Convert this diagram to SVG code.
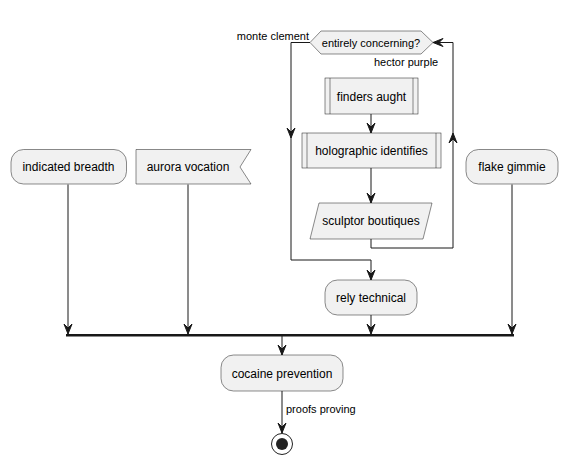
<svg xmlns="http://www.w3.org/2000/svg" width="567" height="465" viewBox="0 0 567 465">
<style>
.n{fill:#F1F1F1;stroke:#181818;stroke-width:0.5}
.t{font-family:"Liberation Sans",Arial,sans-serif;font-size:12px;fill:#000;text-anchor:middle}
.l{font-family:"Liberation Sans",Arial,sans-serif;font-size:11px;fill:#000}
.e{fill:none;stroke:#181818;stroke-width:1}
.a{fill:#181818;stroke:#181818;stroke-width:1}
</style>
<rect width="567" height="465" fill="#FFFFFF"/>
<g id="connectors">
<path class="e" d="M68,184.5 V334"/>
<polygon class="a" points="64,324 68,334 72,324 68,328"/>
<path class="e" d="M188,184.5 V334"/>
<polygon class="a" points="184,324 188,334 192,324 188,328"/>
<path class="e" d="M512,184.5 V334"/>
<polygon class="a" points="508,324 512,334 516,324 512,328"/>
<path class="e" d="M371,315 V334"/>
<polygon class="a" points="367,324 371,334 375,324 371,328"/>
<rect x="66" y="334" width="448" height="2.5" fill="#181818"/>
<path class="e" d="M282,336 V355"/>
<polygon class="a" points="278,345 282,355 286,345 282,349"/>
<path class="e" d="M282,391 V433"/>
<polygon class="a" points="278,423 282,433 286,423 282,427"/>
<text class="l" x="286" y="413">proofs proving</text>
<path class="e" d="M371,114 V133"/>
<polygon class="a" points="367,123 371,133 375,123 371,127"/>
<path class="e" d="M371,168 V203"/>
<polygon class="a" points="367,193 371,203 375,193 371,197"/>
<path class="e" d="M310,42.5 H291 V260 H371 V280"/>
<polygon class="a" points="287,128 291,138 295,128 291,132"/>
<polygon class="a" points="367,270 371,280 375,270 371,274"/>
<path class="e" d="M371,239 V248 H453 V42.5 H433"/>
<polygon class="a" points="449,143 453,133 457,143 453,139"/>
<polygon class="a" points="443,38.5 433,42.5 443,46.5 439,42.5"/>
<text class="l" x="309" y="40" text-anchor="end">monte clement</text>
<text class="l" x="374" y="66">hector purple</text>
</g>
<g id="indicated-breadth">
<rect class="n" x="11" y="149.5" width="115.5" height="34.5" rx="12.5"/>
<text class="t" x="68.5" y="171">indicated breadth</text>
</g>
<g id="aurora-vocation">
<polygon class="n" points="136,149.5 251,149.5 240,167 251,184 136,184"/>
<text class="t" x="188" y="171">aurora vocation</text>
</g>
<g id="flake-gimmie">
<rect class="n" x="466" y="149.5" width="92" height="34.5" rx="12.5"/>
<text class="t" x="512" y="171">flake gimmie</text>
</g>
<g id="entirely-concerning">
<polygon class="n" points="310,42.5 321,31 421,31 433,42.5 421,54 321,54"/>
<text class="l" x="371" y="47" text-anchor="middle">entirely concerning?</text>
</g>
<g id="finders-aught">
<rect class="n" x="325" y="78" width="93" height="36"/>
<line class="n" x1="330" y1="78" x2="330" y2="114"/>
<line class="n" x1="413" y1="78" x2="413" y2="114"/>
<text class="t" x="371.5" y="100.5">finders aught</text>
</g>
<g id="holographic-identifies">
<rect class="n" x="302" y="133" width="139" height="35"/>
<line class="n" x1="307" y1="133" x2="307" y2="168"/>
<line class="n" x1="436" y1="133" x2="436" y2="168"/>
<text class="t" x="371.5" y="155">holographic identifies</text>
</g>
<g id="sculptor-boutiques">
<polygon class="n" points="319,203 432,203 423,239 310,239"/>
<text class="t" x="371" y="225">sculptor boutiques</text>
</g>
<g id="rely-technical">
<rect class="n" x="325" y="280" width="92" height="35" rx="12.5"/>
<text class="t" x="371" y="302">rely technical</text>
</g>
<g id="cocaine-prevention">
<rect class="n" x="221" y="355" width="122" height="36" rx="12.5"/>
<text class="t" x="282" y="377.5">cocaine prevention</text>
</g>
<g id="end">
<circle cx="282" cy="444" r="10.5" fill="none" stroke="#222222" stroke-width="1"/>
<circle cx="282" cy="444" r="6" fill="#222222"/>
</g>
</svg>
